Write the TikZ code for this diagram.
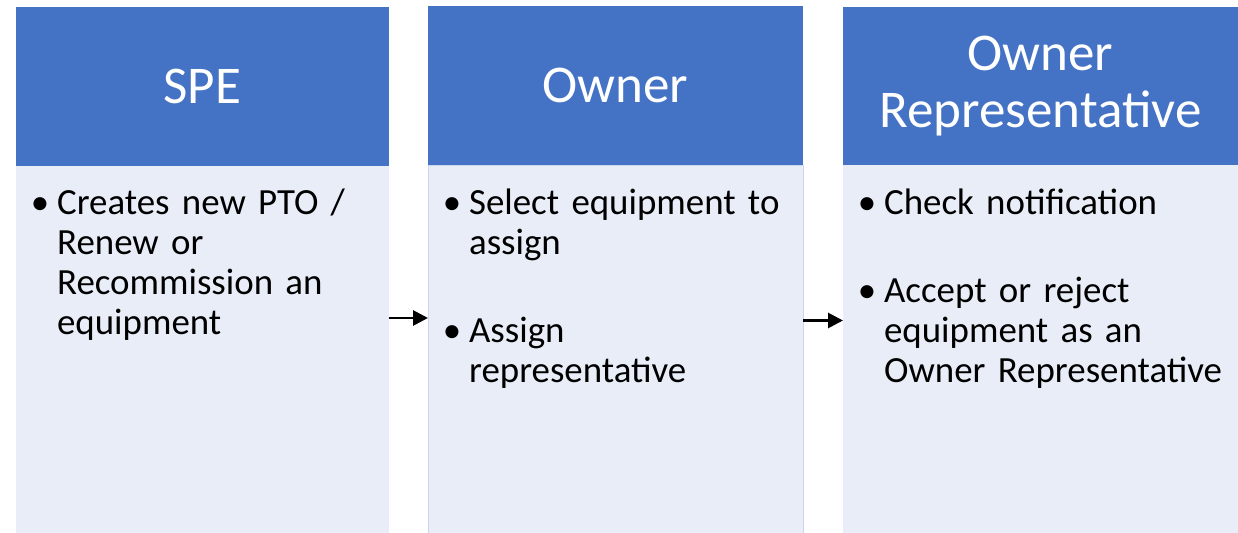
\documentclass[tikz,border=0pt]{standalone}
\usepackage{fontspec}
\setmainfont[WordSpace=0.65]{Carlito}
\usepackage{enumitem}
\usetikzlibrary{arrows.meta}
\definecolor{headblue}{HTML}{4472C4}
\definecolor{bodyblue}{HTML}{E8EDF7}
\definecolor{edgeblue}{HTML}{CBD5EB}
\setlist[itemize]{leftmargin=23.2pt, labelsep=4.5pt, itemsep=27.2pt, parsep=0pt, topsep=0pt}

\begin{document}
\begin{tikzpicture}[x=0.02cm, y=-0.02cm,
    head/.style={rectangle, fill=headblue, text=white, anchor=north west, inner sep=0pt, outer sep=0pt, align=center, font=\fontsize{30.2}{32.6}\selectfont},
    body/.style={rectangle, fill=bodyblue, anchor=north west, inner sep=0pt, outer sep=0pt},
    items/.style={anchor=base west, inner sep=0pt, text width=7.8cm, align=left, font=\fontsize{21}{22.7}\selectfont},
    flow/.style={line width=1.6pt, -{Triangle[length=8.5pt,width=8.5pt]}}]
    \useasboundingbox (0,0) rectangle (1238,533);

	% column 1
	\node[head, minimum width=7.46cm, minimum height=3.19cm] (spe) at (16,7) {SPE};
	\node[body, minimum width=7.46cm, minimum height=7.33cm] (spebox) at (16,166.5) {};
	\node[items] (speitems) at (16,175) {\begin{itemize}
	  \item Creates new PTO /\newline Renew or\newline Recommission an\newline equipment
	\end{itemize}};

	% column 2
	\node[head, minimum width=7.5cm, minimum height=3.19cm] (owner) at (428,6) {Owner};
	\node[body, draw=edgeblue, line width=0.4pt, minimum width=7.5cm, minimum height=7.35cm] (ownerbox) at (428,165.5) {};
	\node[items] (owneritems) at (428,175) {\begin{itemize}
	  \item Select equipment to\newline assign
	  \item Assign\newline representative
	\end{itemize}};

	% column 3
	\node[head, minimum width=7.9cm, minimum height=3.17cm] (rep) at (843,7) {Owner\\Representative};
	\node[body, minimum width=7.9cm, minimum height=7.35cm] (repbox) at (843,165.5) {};
	\node[items] (repitems) at (843,175) {\begin{itemize}
	  \item Check notification
	  \item Accept or reject\newline equipment as an\newline Owner Representative
	\end{itemize}};

	\draw[flow] (spebox.east |- 0,318) -- (ownerbox.west |- 0,318);
	\draw[flow] (ownerbox.east |- 0,320.5) -- (repbox.west |- 0,320.5);
\end{tikzpicture}
\end{document}
